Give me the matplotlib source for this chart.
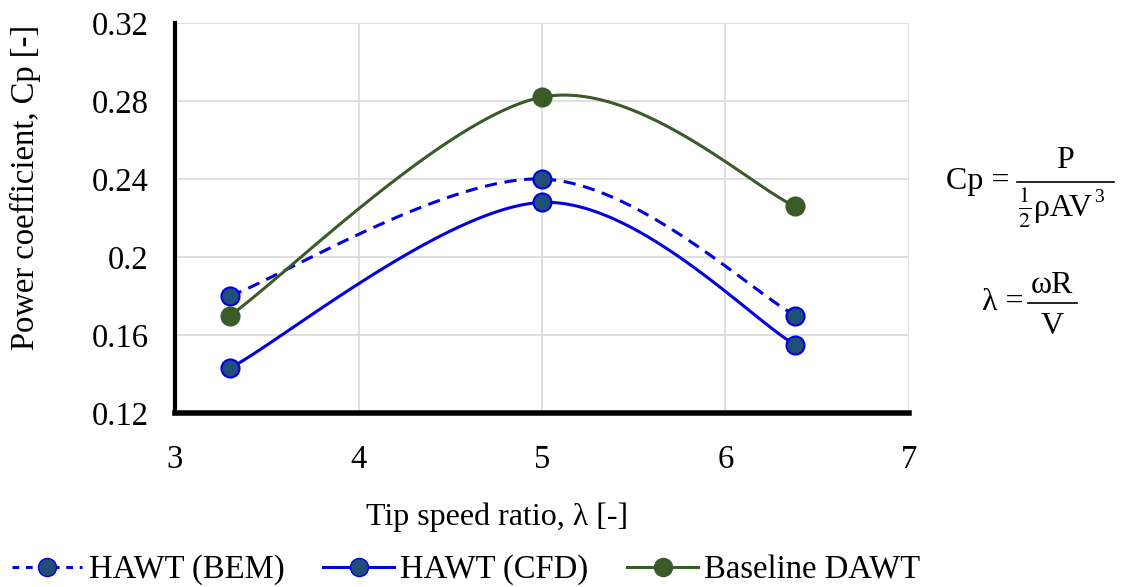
import numpy as np
import matplotlib
matplotlib.use('Agg')
import matplotlib.pyplot as plt
from matplotlib.lines import Line2D

plt.rcParams['font.family'] = ['Liberation Serif', 'DejaVu Serif']
plt.rcParams['mathtext.fontset'] = 'stix'

# data
tsr = [3.3, 5.0, 6.38]
cp_bem = [0.180, 0.240, 0.170]
cp_cfd = [0.143, 0.228, 0.155]
cp_dawt = [0.170, 0.282, 0.226]
labels = ['HAWT (BEM)', 'HAWT (CFD)', 'Baseline DAWT']


def smooth(x, y, n=60):
    # Excel style smoothed line: cubic bezier with catmull-rom tangents
    x = np.asarray(x, float)
    y = np.asarray(y, float)
    px = np.concatenate([[x[0]], x, [x[-1]]])
    py = np.concatenate([[y[0]], y, [y[-1]]])
    t = np.linspace(0, 1, n)[:, None]
    xs, ys = [], []
    for i in range(len(x) - 1):
        p0 = np.array([px[i + 1], py[i + 1]])
        p3 = np.array([px[i + 2], py[i + 2]])
        p1 = p0 + (np.array([px[i + 2], py[i + 2]]) - np.array([px[i], py[i]])) / 6
        p2 = p3 - (np.array([px[i + 3], py[i + 3]]) - np.array([px[i + 1], py[i + 1]])) / 6
        b = ((1 - t) ** 3) * p0 + 3 * ((1 - t) ** 2) * t * p1 + 3 * (1 - t) * t ** 2 * p2 + t ** 3 * p3
        xs.append(b[:, 0])
        ys.append(b[:, 1])
    return np.concatenate(xs), np.concatenate(ys)


W, H = 1121, 587
fig = plt.figure(figsize=(W / 100, H / 100), dpi=100)
ax = fig.add_axes([175 / W, 1 - 413 / H, (909 - 175) / W, (413 - 23) / H])


def px(x, y):
    # pixel position (from top left) -> figure fraction
    return x / W, 1 - y / H


blue = '#0000E0'
mfill = '#1F4E79'
green = '#3A5A27'
ms = 13

sx, sy = smooth(tsr, cp_bem)
ax.plot(sx, sy, color=blue, lw=2.2, ls=(0, (4, 2.5)), zorder=3)
ax.plot(tsr, cp_bem, ls='none', marker='o', ms=ms, mfc=mfill, mec=blue, mew=1.5, zorder=4)

sx, sy = smooth(tsr, cp_cfd)
ax.plot(sx, sy, color=blue, lw=2.2, zorder=3)
ax.plot(tsr, cp_cfd, ls='none', marker='o', ms=ms, mfc=mfill, mec=blue, mew=1.5, zorder=4)

sx, sy = smooth(tsr, cp_dawt)
ax.plot(sx, sy, color=green, lw=2.2, zorder=3)
ax.plot(tsr, cp_dawt, ls='none', marker='o', ms=ms, mfc=green, mec=green, mew=1.5, zorder=4)

# legend handles
h1, = ax.plot([], [], color=blue, lw=2.2, ls=(0, (2.2, 2.2)), marker='o', ms=ms, mfc=mfill, mec=blue)
h2, = ax.plot([], [], color=blue, lw=2.2, marker='o', ms=ms, mfc=mfill, mec=blue)
h3, = ax.plot([], [], color=green, lw=2.2, marker='o', ms=ms, mfc=green, mec=green)
fig.legend([h1, h2, h3], labels, loc='center left', bbox_to_anchor=px(12, 570), ncol=3,
           frameon=False, fontsize=23.5, handlelength=2.15, handletextpad=0.2,
           columnspacing=1.2, borderpad=0, borderaxespad=0)

ax.set_xlim(3, 7)
ax.set_ylim(0.12, 0.32)
ax.set_xticks([3, 4, 5, 6, 7])
ax.set_yticks([0.12, 0.16, 0.2, 0.24, 0.28, 0.32])
ax.set_yticklabels(['0.12', '0.16', '0.2', '0.24', '0.28', '0.32'])
ax.grid(True, color='#D9D9D9', lw=1.2)
ax.set_axisbelow(True)
for s in ['top', 'right']:
    ax.spines[s].set_visible(False)
ax.spines['left'].set_linewidth(3)
ax.spines['bottom'].set_linewidth(4)
ax.tick_params(length=0, labelsize=23.5)
ax.tick_params(axis='y', pad=19)
ax.tick_params(axis='x', pad=23)

fig.text(*px(497, 517), 'Tip speed ratio, λ [-]', fontsize=23, ha='center', va='center')
fig.text(*px(25, 187), 'Power coefficient, Cp [-]', fontsize=23.5, ha='center', va='center',
         rotation=90)

# Cp = P / (1/2 rho A V^3)
fs = 23
fig.text(*px(978, 182), 'Cp =', fontsize=fs, ha='center', va='center')
fig.text(*px(1065, 160), 'P', fontsize=fs, ha='center', va='center')
fig.add_artist(Line2D([1017 / W, 1114 / W], [1 - 182 / H] * 2, color='black', lw=1.2))
fig.text(*px(1025, 207), r'$\frac{1}{2}$', fontsize=fs, ha='center', va='center')
fig.text(*px(1034, 208), 'ρAV', fontsize=fs, ha='left', va='center')
fig.text(*px(1094, 198), '3', fontsize=14, ha='left', va='center')

# lambda = omega R / V
fig.text(*px(1003, 303), 'λ =', fontsize=fs, ha='center', va='center')
fig.text(*px(1052, 286), 'ωR', fontsize=fs, ha='center', va='center')
fig.add_artist(Line2D([1028 / W, 1077 / W], [1 - 303 / H] * 2, color='black', lw=1.2))
fig.text(*px(1052, 326), 'V', fontsize=fs, ha='center', va='center')

fig.savefig('out.png', dpi=100)
